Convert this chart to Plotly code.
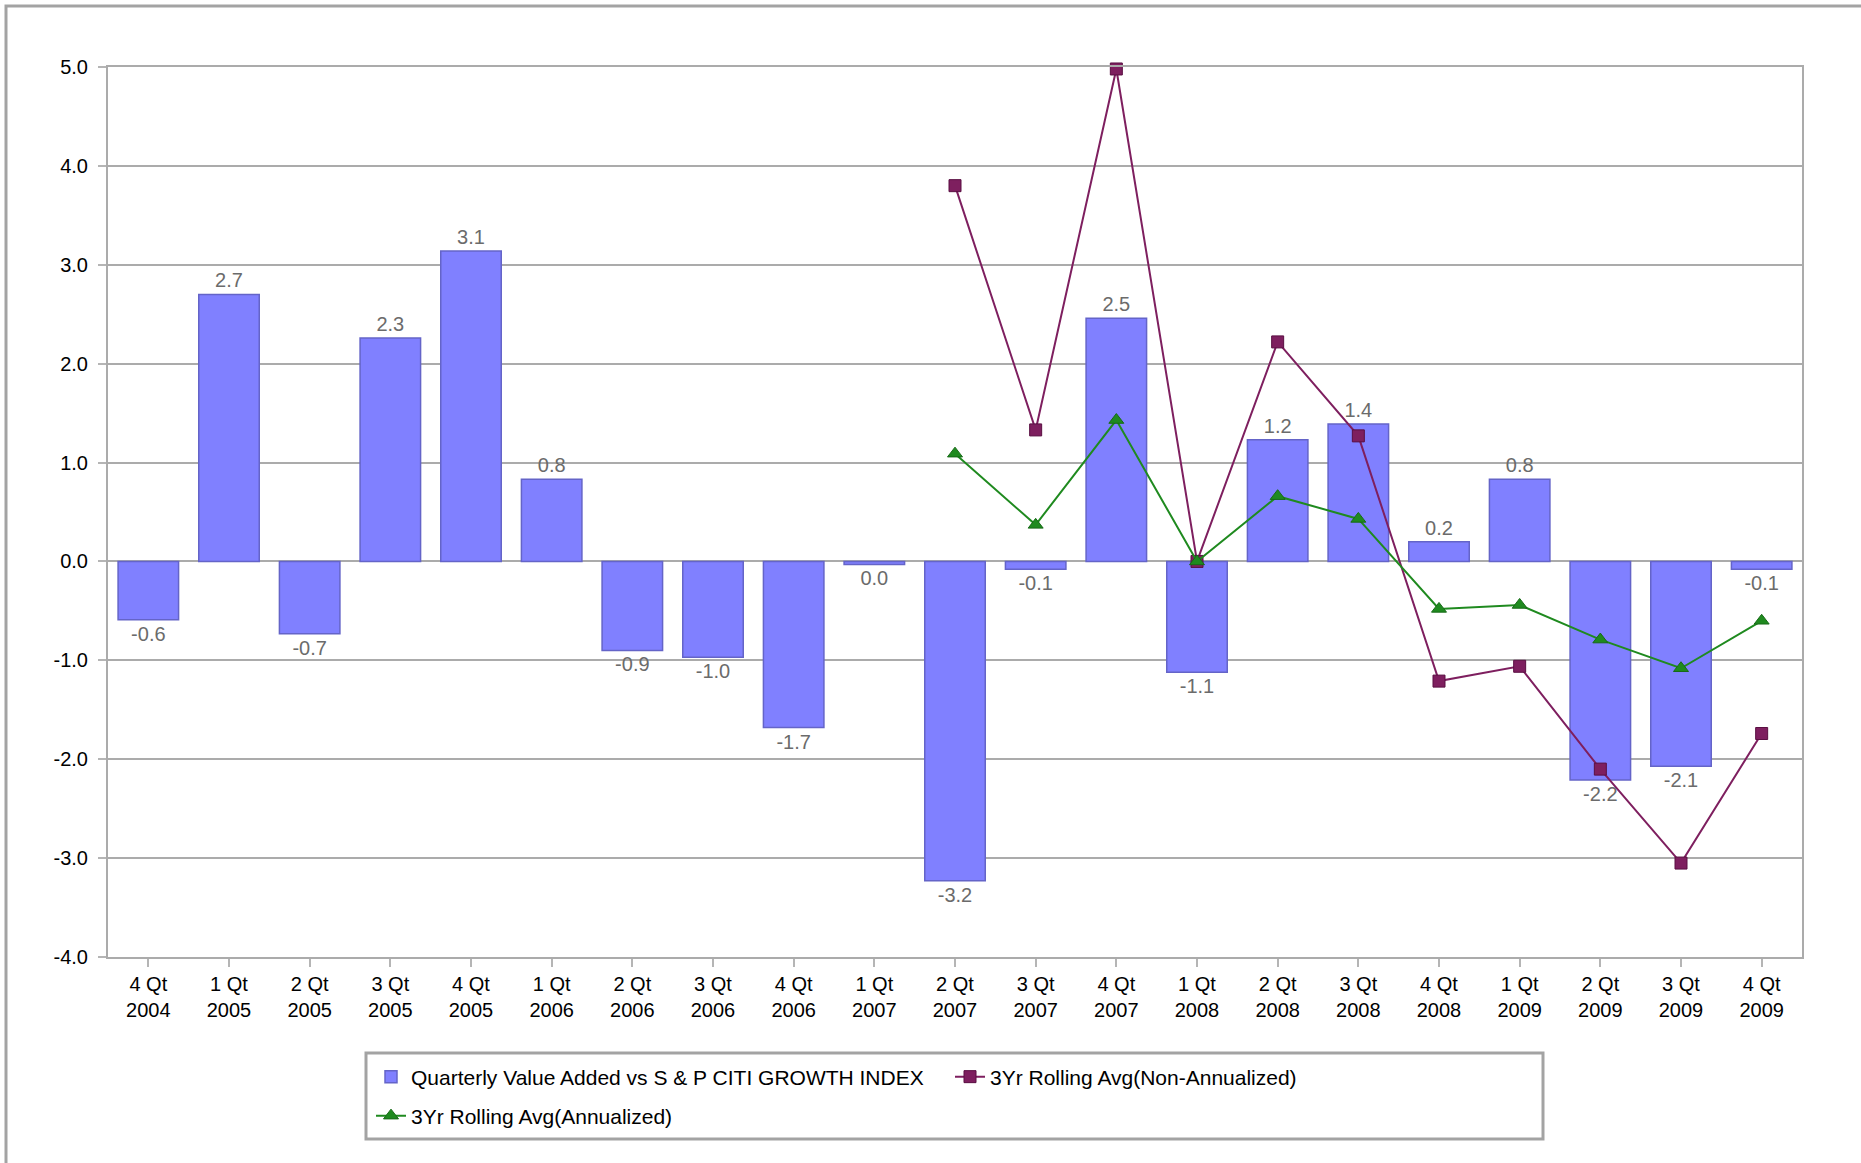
import plotly.graph_objects as go

# Quarter labels (two-line ticks)
quarters = ["4 Qt", "1 Qt", "2 Qt", "3 Qt", "4 Qt", "1 Qt", "2 Qt", "3 Qt", "4 Qt", "1 Qt",
            "2 Qt", "3 Qt", "4 Qt", "1 Qt", "2 Qt", "3 Qt", "4 Qt", "1 Qt", "2 Qt", "3 Qt", "4 Qt"]
years = ["2004", "2005", "2005", "2005", "2005", "2006", "2006", "2006", "2006", "2007",
         "2007", "2007", "2007", "2008", "2008", "2008", "2008", "2009", "2009", "2009", "2009"]

# Quarterly value added vs S & P Citi Growth Index
value_added = [-0.59, 2.70, -0.73, 2.26, 3.14, 0.83, -0.90, -0.97, -1.68, -0.03,
               -3.23, -0.08, 2.46, -1.12, 1.23, 1.39, 0.20, 0.83, -2.21, -2.07, -0.08]

# 3-year rolling averages (available from 2 Qt 2007 onward)
rolling_non_annualized = [None] * 10 + [3.80, 1.33, 4.98, 0.00, 2.22, 1.27, -1.21, -1.06, -2.10, -3.05, -1.74]
rolling_annualized = [None] * 10 + [1.09, 0.37, 1.43, 0.00, 0.66, 0.43, -0.48, -0.44, -0.79, -1.08, -0.60]

# Value axis ticks
y_ticks = [-4, -3, -2, -1, 0, 1, 2, 3, 4, 5]
y_tick_labels = ["-4.0", "-3.0", "-2.0", "-1.0", "0.0", "1.0", "2.0", "3.0", "4.0", "5.0"]

categories = [f"{q}<br>{y}" for q, y in zip(quarters, years)]
bar_labels = [f"{round(v, 1) + 0.0:.1f}" for v in value_added]

FONT = "Liberation Sans, Arial, sans-serif"
GRID = "#ababab"

fig = go.Figure()

fig.add_trace(go.Bar(
    x=categories, y=value_added,
    name="Quarterly Value Added vs S & P CITI GROWTH INDEX",
    marker=dict(color="#8080ff", line=dict(color="#6464c8", width=1.5)),
    width=0.75,
    text=bar_labels, texttemplate="%{text}", textposition="outside",
    textfont=dict(family=FONT, size=20, color="#6b6b6b"),
    constraintext="none", cliponaxis=False,
    legend="legend",
))

fig.add_trace(go.Scatter(
    x=categories, y=rolling_non_annualized,
    name="3Yr Rolling Avg(Non-Annualized)",
    mode="lines+markers",
    line=dict(color="#7e1f5f", width=2),
    marker=dict(symbol="square", size=12, color="#7e1f5f", line=dict(color="#5a0f42", width=1)),
    cliponaxis=False,
    legend="legend",
))

fig.add_trace(go.Scatter(
    x=categories, y=rolling_annualized,
    name="3Yr Rolling Avg(Annualized)",
    mode="lines+markers",
    line=dict(color="#1f8a1f", width=2),
    marker=dict(symbol="triangle-up", size=13, color="#1f8a1f", line=dict(color="#176a17", width=1)),
    cliponaxis=False,
    legend="legend2",
))

L, R, T, B = 108, 59, 67, 206
W, H = 1861, 1163
pw, ph = W - L - R, H - T - B


def px_x(x):
    return (x - L) / pw


def px_y(y):
    return (H - B - y) / ph


fig.update_layout(
    width=W, height=H,
    margin=dict(l=L, r=R, t=T, b=B),
    paper_bgcolor="white", plot_bgcolor="white",
    font=dict(family=FONT, size=20, color="black"),
    bargap=0.25,
    legend=dict(
        orientation="h", x=px_x(371), xanchor="left", y=px_y(1077), yanchor="middle",
        entrywidth=534, font=dict(family=FONT, size=21, color="black"),
        bgcolor="rgba(0,0,0,0)", borderwidth=0,
    ),
    legend2=dict(
        orientation="h", x=px_x(371), xanchor="left", y=px_y(1116), yanchor="middle",
        font=dict(family=FONT, size=21, color="black"),
        bgcolor="rgba(0,0,0,0)", borderwidth=0,
    ),
    shapes=[
        # outer frame of the chart image
        dict(type="rect", xref="paper", yref="paper",
             x0=px_x(6), x1=px_x(1920), y0=px_y(1220), y1=px_y(6),
             line=dict(color="#a3a3a3", width=3), layer="below"),
        # legend box
        dict(type="rect", xref="paper", yref="paper",
             x0=px_x(366), x1=px_x(1543), y0=px_y(1139), y1=px_y(1053),
             line=dict(color="#a3a3a3", width=3), layer="below"),
    ],
)

fig.update_xaxes(
    type="category", range=[-0.5, len(categories) - 0.5],
    showline=True, mirror=True, linecolor=GRID, linewidth=2,
    showgrid=False, ticks="outside", ticklen=8, tickwidth=2, tickcolor="#b5b5b5",
    ticklabelstandoff=0,
    tickfont=dict(family=FONT, size=20, color="black"),
)
fig.update_yaxes(
    range=[-4, 5], tickmode="array", tickvals=y_ticks, ticktext=y_tick_labels,
    showline=True, mirror=True, linecolor=GRID, linewidth=2,
    showgrid=True, gridcolor=GRID, gridwidth=2,
    zeroline=True, zerolinecolor=GRID, zerolinewidth=2,
    ticks="outside", ticklen=8, tickwidth=2, tickcolor="#b5b5b5",
    ticklabelstandoff=6,
    tickfont=dict(family=FONT, size=20, color="black"),
)

fig.write_html("out.html")
